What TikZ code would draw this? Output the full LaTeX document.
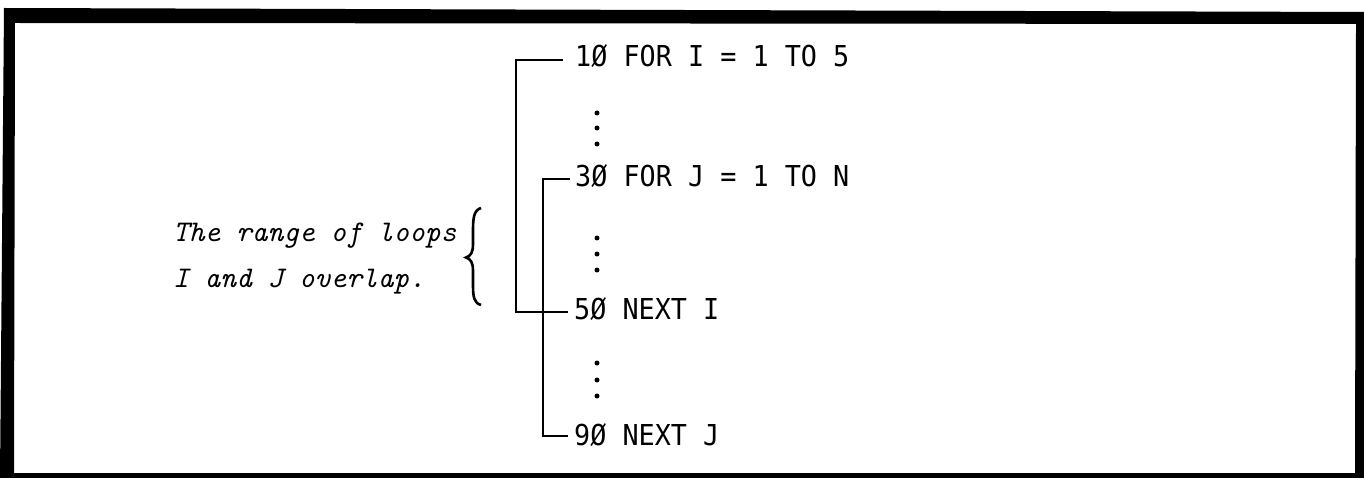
\documentclass[tikz,border=0pt]{standalone}
\usepackage{fontspec}
\usetikzlibrary{calc}
\newfontfamily\codefont[FakeStretch=0.93]{DejaVu Sans Mono}
\begin{document}
\begin{tikzpicture}[x=1pt,y=-1pt,
  code/.style={font=\codefont\fontsize{28.8}{30}\selectfont, inner sep=0pt, anchor=base west},
  note/.style={font=\ttfamily\itshape\fontsize{30}{32}\selectfont\addfontfeature{FakeBold=1.2}, inner sep=0pt, anchor=base west},
  bracket/.style={line width=2.2pt},
  bracestroke/.style={line width=2.6pt},
  dotmark/.style={fill=black}]
\useasboundingbox (0,0) rectangle (1364,478);
% frame
\fill[even odd rule] (4,8) -- (1364,12) -- (1364,478) -- (0,478) -- cycle
  (15,23) -- (1356,24) -- (1355,473) -- (14,473) -- cycle;
% code lines
\node[code] (l1) at (575,67) {1Ø FOR I = 1 TO 5};
\node[code] (l3) at (575,187) {3Ø FOR J = 1 TO N};
\node[code] (l5) at (574,319) {5Ø NEXT I};
\node[code] (l9) at (574,445) {9Ø NEXT J};
% note
\node[note] (n1) at (173,242) {The range of loops};
\node[note] (n2) at (173,287) {I and J overlap.};
% brace
\draw[bracestroke] (481,208) .. controls (474,210) and (473,218) .. (473,230)
  -- (473,244) .. controls (473,252) and (471,256) .. (466,257.5)
  .. controls (471,259) and (473,263) .. (473,271)
  -- (473,285) .. controls (473,297) and (474,303) .. (481,305);
% dots
\foreach \yy in {113,128,144,238,254,270,363,380,396}
  \fill[dotmark] (597,\yy) circle (2.5);
% brackets
\coordinate (iL) at (516,0);
\coordinate (jL) at (543,0);
\coordinate (e1) at ($(l1.base west)+(-12,-7)$);
\coordinate (e3) at ($(l3.base west)+(-5,-8)$);
\coordinate (e5) at ($(l5.base west)+(-6,-7)$);
\coordinate (e9) at ($(l9.base west)+(-6,-9)$);
\draw[bracket] (e1) -| (iL |- e5) -- (e5);
\draw[bracket] (e3) -| (jL |- e9) -- (e9);
\end{tikzpicture}
\end{document}
